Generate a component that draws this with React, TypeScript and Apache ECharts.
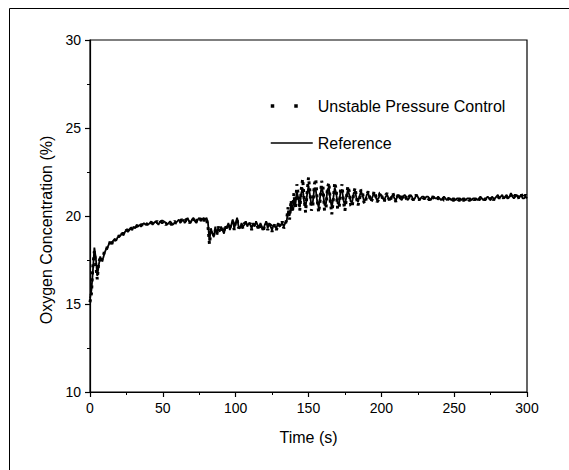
import React, { useEffect, useRef } from "react";
import * as echarts from "echarts";

// sample interval (s) between successive readings
const sampleStep = 1;

const seriesNames = ["Unstable Pressure Control", "Reference"];

const xTicks = [0, 50, 100, 150, 200, 250, 300];
const yTicks = [10, 15, 20, 25, 30];

const referenceValues = [
  15.3, 15.8, 16.9, 18.2, 17.6, 16.6, 17.2, 17.7, 17.5, 17.6,
  17.9, 18.1, 18.2, 18.4, 18.5, 18.5, 18.6, 18.7, 18.6, 18.8,
  18.8, 18.9, 19.0, 18.9, 19.1, 19.2, 19.1, 19.2, 19.3, 19.2,
  19.4, 19.3, 19.5, 19.4, 19.5, 19.4, 19.5, 19.6, 19.5, 19.6,
  19.5, 19.6, 19.7, 19.5, 19.6, 19.7, 19.6, 19.5, 19.7, 19.6,
  19.6, 19.7, 19.6, 19.5, 19.6, 19.7, 19.6, 19.5, 19.6, 19.6,
  19.7, 19.8, 19.6, 19.7, 19.8, 19.6, 19.7, 19.9, 19.7, 19.6,
  19.8, 19.9, 19.7, 19.6, 19.8, 19.9, 19.7, 19.8, 19.9, 19.8,
  19.9, 19.6, 18.6, 19.3, 19.0, 18.8, 19.4, 19.0, 19.3, 19.1,
  19.4, 19.2, 19.0, 19.4, 19.3, 19.6, 19.2, 19.5, 19.8, 19.3,
  19.6, 19.9, 19.4, 19.3, 19.6, 19.4, 19.5, 19.7, 19.4, 19.6,
  19.5, 19.3, 19.6, 19.4, 19.7, 19.5, 19.3, 19.6, 19.4, 19.2,
  19.5, 19.7, 19.3, 19.6, 19.4, 19.2, 19.5, 19.4, 19.3, 19.6,
  19.4, 19.5, 19.6, 19.4, 19.6, 19.7, 20.3, 20.0, 20.6, 20.4,
  21.0, 20.6, 21.4, 21.0, 20.5, 21.3, 21.6, 20.8, 20.5, 21.2,
  21.7, 21.2, 20.6, 20.8, 21.6, 21.5, 20.8, 20.5, 21.1, 21.7,
  21.3, 20.6, 20.7, 21.5, 21.6, 20.9, 20.5, 21.0, 21.6, 21.3,
  20.7, 20.7, 21.4, 21.5, 20.9, 20.6, 21.1, 21.5, 21.2, 20.8,
  20.8, 21.3, 21.4, 21.0, 20.8, 21.1, 21.4, 21.2, 20.9, 20.9,
  21.2, 21.3, 21.0, 20.9, 21.1, 21.3, 21.1, 20.9, 21.0, 21.2,
  21.2, 21.0, 20.9, 21.1, 21.2, 21.0, 20.9, 21.1, 21.2, 21.0,
  20.9, 21.1, 21.2, 21.0, 20.9, 21.1, 21.2, 21.1, 20.9, 21.0,
  21.2, 21.1, 20.9, 21.0, 21.2, 21.1, 20.9, 21.0, 21.1, 21.1,
  21.0, 21.1, 21.1, 21.0, 20.9, 21.1, 21.1, 21.0, 21.0, 21.1,
  21.0, 20.9, 21.0, 21.1, 21.0, 20.9, 21.0, 21.0, 20.9, 21.0,
  21.0, 20.9, 21.0, 21.0, 21.0, 20.9, 21.0, 21.0, 20.9, 21.0,
  21.0, 21.0, 20.9, 21.0, 21.0, 21.0, 20.9, 21.0, 21.1, 21.0,
  20.9, 21.0, 21.0, 21.1, 21.0, 20.9, 21.1, 21.0, 21.0, 21.1,
  21.2, 21.0, 21.1, 21.2, 21.0, 21.1, 21.2, 21.0, 21.1, 21.3,
  21.1, 21.0, 21.1, 21.2, 21.0, 21.1, 21.2, 21.0, 21.0, 21.1,
  21.0,
];

const unstableValues = [
  15.1, 15.6, 17.2, 18.0, 17.2, 16.4, 17.4, 17.6, 17.4, 17.7,
  18.0, 18.0, 18.3, 18.3, 18.6, 18.4, 18.7, 18.6, 18.7, 18.7,
  18.9, 18.8, 19.0, 19.0, 19.0, 19.2, 19.2, 19.1, 19.3, 19.3,
  19.3, 19.4, 19.4, 19.5, 19.4, 19.5, 19.5, 19.5, 19.6, 19.5,
  19.6, 19.7, 19.6, 19.6, 19.5, 19.6, 19.7, 19.6, 19.6, 19.7,
  19.7, 19.6, 19.5, 19.6, 19.7, 19.6, 19.5, 19.6, 19.7, 19.6,
  19.6, 19.7, 19.7, 19.8, 19.7, 19.7, 19.8, 19.8, 19.6, 19.7,
  19.9, 19.8, 19.6, 19.7, 19.9, 19.8, 19.8, 19.9, 19.7, 19.9,
  19.8, 19.4, 18.4, 19.1, 19.2, 18.9, 19.2, 18.9, 19.4, 19.2,
  19.3, 19.1, 19.1, 19.5, 19.2, 19.5, 19.3, 19.6, 19.7, 19.2,
  19.7, 19.8, 19.3, 19.4, 19.5, 19.3, 19.6, 19.6, 19.5, 19.5,
  19.6, 19.2, 19.5, 19.5, 19.6, 19.4, 19.2, 19.5, 19.5, 19.1,
  19.6, 19.6, 19.2, 19.5, 19.5, 19.1, 19.4, 19.5, 19.2, 19.5,
  19.5, 19.4, 19.7, 19.3, 19.5, 19.8, 20.5, 19.8, 20.9, 20.2,
  21.3, 20.4, 21.8, 21.2, 20.3, 21.5, 22.1, 21.0, 20.2, 21.3,
  22.2, 21.4, 20.3, 20.6, 21.8, 22.1, 20.9, 20.2, 20.9, 22.0,
  21.6, 20.3, 20.4, 21.6, 21.9, 20.8, 20.1, 20.9, 21.9, 21.5,
  20.4, 20.4, 21.5, 21.8, 20.8, 20.3, 21.0, 21.7, 21.4, 20.6,
  20.5, 21.3, 21.6, 21.0, 20.6, 20.9, 21.5, 21.4, 20.8, 20.7,
  21.2, 21.4, 21.1, 20.8, 21.0, 21.4, 21.2, 20.8, 20.9, 21.3,
  21.3, 20.9, 20.8, 21.2, 21.3, 21.0, 20.8, 21.1, 21.3, 21.0,
  20.8, 21.1, 21.3, 21.0, 20.9, 21.2, 21.2, 21.0, 20.9, 21.1,
  21.2, 21.0, 20.9, 21.1, 21.2, 21.0, 20.9, 21.1, 21.1, 21.0,
  21.0, 21.1, 21.0, 20.9, 21.0, 21.1, 21.0, 20.9, 21.0, 21.0,
  20.9, 21.0, 21.0, 20.9, 20.9, 21.0, 21.0, 20.9, 21.0, 20.9,
  20.9, 21.0, 21.0, 20.9, 20.9, 21.0, 20.9, 20.9, 21.0, 21.0,
  20.9, 20.9, 21.0, 21.0, 20.9, 21.0, 21.0, 20.9, 21.0, 21.0,
  21.0, 20.9, 21.0, 21.0, 20.9, 21.0, 21.1, 20.9, 21.0, 21.1,
  21.1, 21.0, 21.1, 21.1, 21.0, 21.2, 21.1, 21.0, 21.2, 21.2,
  21.0, 21.1, 21.2, 21.1, 21.0, 21.2, 21.3, 21.0, 21.1, 21.2,
  21.1,
];

const FONT = "'Liberation Sans', Arial, Helvetica, sans-serif";

export default function App() {
  const ref = useRef<HTMLDivElement>(null);

  useEffect(() => {
    if (!ref.current) return;
    const chart = echarts.init(ref.current, undefined, { renderer: "svg" });
    const toPairs = (vals: number[]) => vals.map((v, i) => [i * sampleStep, v]);

    const axisCommon = {
      axisLine: { show: true, onZero: false, lineStyle: { color: "#000", width: 1.2 } },
      axisTick: { show: true, inside: false, length: 5, lineStyle: { color: "#000", width: 1.2 } },
      minorTick: { show: true, splitNumber: 2, length: 3, lineStyle: { color: "#000", width: 1 } },
      splitLine: { show: false },
      axisLabel: { color: "#000", fontSize: 14, fontFamily: FONT, margin: 9 },
    };

    chart.setOption({
      animation: false,
      backgroundColor: "#fff",
      textStyle: { fontFamily: FONT },
      grid: {
        left: 90,
        top: 40,
        right: 42,
        bottom: 78,
        show: true,
        borderColor: "#000",
        borderWidth: 1.2,
        containLabel: false,
      },
      legend: {
        orient: "vertical",
        left: 264,
        top: 93,
        itemWidth: 42,
        itemHeight: 14,
        itemGap: 21,
        itemStyle: { opacity: 0 },
        textStyle: { color: "#000", fontSize: 16, fontFamily: FONT },
        data: [
          { name: seriesNames[0], lineStyle: { color: "#000", width: 3.5, type: [3.5, 20] } },
          { name: seriesNames[1], lineStyle: { color: "#000", width: 1.6, type: "solid" } },
        ],
      },
      xAxis: {
        type: "value",
        min: xTicks[0],
        max: xTicks[xTicks.length - 1],
        interval: xTicks[1] - xTicks[0],
        name: "Time (s)",
        nameLocation: "middle",
        nameGap: 37,
        nameTextStyle: { color: "#000", fontSize: 16, fontFamily: FONT },
        ...axisCommon,
      },
      yAxis: {
        type: "value",
        min: yTicks[0],
        max: yTicks[yTicks.length - 1],
        interval: yTicks[1] - yTicks[0],
        name: "Oxygen Concentration (%)",
        nameLocation: "middle",
        nameGap: 34,
        nameTextStyle: { color: "#000", fontSize: 16, fontFamily: FONT, padding: [0, 28, 0, 0] },
        ...axisCommon,
      },
      graphic: [
        {
          type: "rect",
          left: 7,
          top: 6,
          shape: { width: 620, height: 520 },
          style: { fill: "none", stroke: "#000", lineWidth: 1 },
          silent: true,
          z: -1,
        },
      ],
      series: [
        {
          name: seriesNames[0],
          type: "line",
          data: toPairs(unstableValues),
          showSymbol: false,
          symbol: "none",
          lineStyle: { color: "#000", width: 3, type: [3, 4] },
          itemStyle: { color: "#000" },
        },
        {
          name: seriesNames[1],
          type: "line",
          data: toPairs(referenceValues),
          showSymbol: false,
          symbol: "none",
          lineStyle: { color: "#000", width: 1.8, type: "solid" },
          itemStyle: { color: "#000" },
        },
      ],
    });
    return () => chart.dispose();
  }, []);

  return (
    <div
      ref={ref}
      style={{ position: "fixed", left: 0, top: 0, width: 569, height: 470, background: "#fff" }}
    />
  );
}
